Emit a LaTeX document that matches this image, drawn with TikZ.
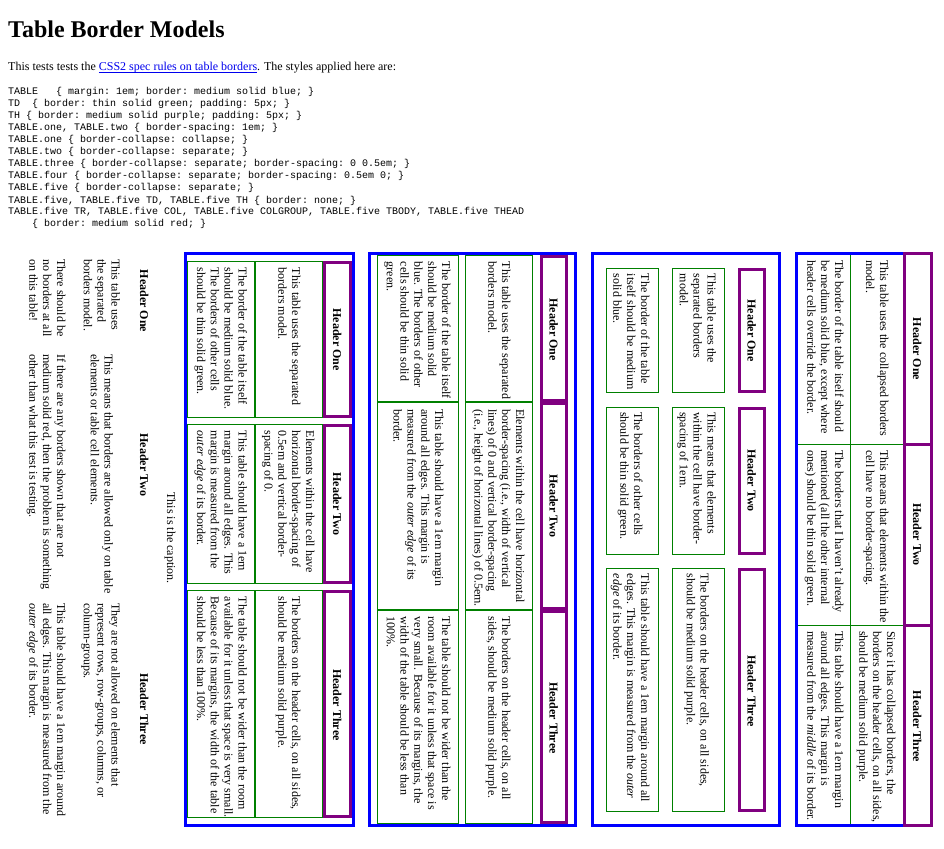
\documentclass[tikz,border=0pt]{standalone}
\usepackage{fontspec}
\setmainfont{Liberation Serif}
\setmonofont{Liberation Mono}
\definecolor{tblue}{HTML}{0000FF}
\definecolor{tpurple}{HTML}{800080}
\definecolor{tgreen}{HTML}{008000}
\definecolor{linkblue}{HTML}{0000EE}
\newcommand\ls[1]{\begin{tabular}[t]{@{}l@{}}#1\end{tabular}}
\newcommand\ulink[1]{{\color{linkblue}\setbox0\hbox{#1}\rlap{\rule[-1.5pt]{\wd0}{0.9pt}}\box0}}
\tikzset{
  tblborder/.style={draw=tblue, line width=3pt},
  thbox/.style={draw=tpurple, line width=3pt},
  tdbox/.style={draw=tgreen, line width=1pt},
  txt/.style={rotate=-90, anchor=base west, inner sep=0pt, font=\fontsize{12}{13.8}\selectfont},
  hdr/.style={rotate=-90, anchor=base, inner sep=0pt, font=\fontsize{12}{13.8}\selectfont\bfseries},
  captxt/.style={rotate=-90, anchor=base, inner sep=0pt, font=\fontsize{12}{13.8}\selectfont},
  codetxt/.style={anchor=base west, inner sep=0pt, font=\fontsize{10}{12}\selectfont\ttfamily},
}
\begin{document}
\begin{tikzpicture}[x=1pt,y=-1pt]
\fill[white] (0,0) rectangle (944,848);
\path[use as bounding box] (0,0) rectangle (944,848);

% ---------- top part ----------
\node[anchor=base west, inner sep=0pt, font=\fontsize{24}{28}\selectfont\bfseries] (title) at (8,38) {Table Border Models};
\node[anchor=base west, inner sep=0pt, font=\fontsize{12}{13.8}\selectfont] (intro) at (8,71)
  {This tests tests the \ulink{CSS2 spec rules on table borders}. The styles applied here are:};
\node[codetxt] (code) at (8,95) {\ls{%
TABLE\ \ \ \{ margin: 1em; border: medium solid blue; \}\\
TD\ \ \{ border: thin solid green; padding: 5px; \}\\
TH \{ border: medium solid purple; padding: 5px; \}\\
TABLE.one, TABLE.two \{ border-spacing: 1em; \}\\
TABLE.one \{ border-collapse: collapse; \}\\
TABLE.two \{ border-collapse: separate; \}\\
TABLE.three \{ border-collapse: separate; border-spacing: 0 0.5em; \}\\
TABLE.four \{ border-collapse: separate; border-spacing: 0.5em 0; \}\\
TABLE.five \{ border-collapse: separate; \}\\
TABLE.five, TABLE.five TD, TABLE.five TH \{ border: none; \}\\
TABLE.five TR, TABLE.five COL, TABLE.five COLGROUP, TABLE.five TBODY, TABLE.five THEAD\\
\ \ \ \ \{ border: medium solid red; \}}};

% ---------- table one (collapsed) ----------
\draw[tgreen, line width=1pt] (850.5,255) -- (850.5,824);
\draw[tgreen, line width=1pt] (798,444.5) -- (903,444.5);
\draw[tgreen, line width=1pt] (798,625.5) -- (903,625.5);
\draw[tblborder] (904.5,253.5) -- (796.5,253.5) -- (796.5,825.5) -- (904.5,825.5);
\draw[thbox] (904.5,253.5) rectangle (931.5,825.5);
\draw[thbox] (904.5,444.5) -- (931.5,444.5);
\draw[thbox] (904.5,625.5) -- (931.5,625.5);
\node[hdr] (h1a) at (913,349) {Header One};
\node[hdr] (h1b) at (913,534.5) {Header Two};
\node[hdr] (h1c) at (913,726.5) {Header Three};
\node[txt] (a12) at (880,260) {\ls{This table uses the collapsed borders\\model.}};
\node[txt] (a22) at (880,450) {\ls{This means that elements within the\\cell have no border-spacing.}};
\node[txt] (a32) at (887,631) {\ls{Since it has collapsed borders, the\\borders on the header cells, on all sides,\\should be medium solid purple.}};
\node[txt] (a13) at (835,260) {\ls{The border of the table itself should\\be medium solid blue, except where\\header cells override the border.}};
\node[txt] (a23) at (835,450) {\ls{The borders that I haven't already\\mentioned (all the other internal\\ones) should be thin solid green.}};
\node[txt] (a33) at (835,631) {\ls{This table should have a 1em margin\\around all edges. This margin is\\measured from the \textit{middle} of its border.}};

% ---------- table two ----------
\draw[tblborder] (592.5,253.5) rectangle (779.5,825.5);
\draw[thbox] (739.5,269.5) rectangle (764.5,391.5);
\draw[thbox] (739.5,408.5) rectangle (764.5,553.5);
\draw[thbox] (739.5,569.5) rectangle (764.5,810.5);
\draw[tdbox] (672,268.5) rectangle (724.5,392.5);
\draw[tdbox] (672,407.5) rectangle (724.5,554.5);
\draw[tdbox] (672,568.5) rectangle (724.5,811.5);
\draw[tdbox] (606,268.5) rectangle (658.5,392.5);
\draw[tdbox] (606,407.5) rectangle (658.5,554.5);
\draw[tdbox] (606,568.5) rectangle (658.5,811.5);
\node[hdr] (h2a) at (747.5,330.5) {Header One};
\node[hdr] (h2b) at (747.5,480.5) {Header Two};
\node[hdr] (h2c) at (747.5,691) {Header Three};
\node[txt] (b12) at (707.5,273.5) {\ls{This table uses the\\separated borders\\model.}};
\node[txt] (b22) at (707.5,412) {\ls{This means that elements\\within the cell have border-\\spacing of 1em.}};
\node[txt] (b32) at (700.6,573.5) {\ls{The borders on the header cells, on all sides,\\should be medium solid purple.}};
\node[txt] (b13) at (641,273.5) {\ls{The border of the table\\itself should be medium\\solid blue.}};
\node[txt] (b23) at (634.1,412) {\ls{The borders of other cells\\should be thin solid green.}};
\node[txt] (b33) at (641,573.5) {\ls{This table should have a 1em margin around all\\edges. This margin is measured from the \textit{outer}\\\textit{edge} of its border.}};

% ---------- table three ----------
\draw[tblborder] (369.5,253.5) rectangle (575.5,825.5);
\draw[thbox] (541,256.5) rectangle (566.5,400.5);
\draw[thbox] (541,403.5) rectangle (566.5,608.5);
\draw[thbox] (541,611.5) rectangle (566.5,822.5);
\draw[tdbox] (465.5,255.5) rectangle (532,401.5);
\draw[tdbox] (465.5,402.5) rectangle (532,609.5);
\draw[tdbox] (465.5,610.5) rectangle (532,823.5);
\draw[tdbox] (377.5,255.5) rectangle (458,401.5);
\draw[tdbox] (377.5,402.5) rectangle (458,609.5);
\draw[tdbox] (377.5,610.5) rectangle (458,823.5);
\node[hdr] (h3a) at (549.5,329.5) {Header One};
\node[hdr] (h3b) at (549.5,506) {Header Two};
\node[hdr] (h3c) at (549.5,718) {Header Three};
\node[txt] (c12) at (502.2,261.5) {\ls{This table uses the separated\\borders model.}};
\node[txt] (c22) at (516,409) {\ls{Elements within the cell have horizontal\\border-spacing (i.e., width of vertical\\lines) of 0 and vertical border-spacing\\(i.e., height of horizontal lines) of 0.5em.}};
\node[txt] (c32) at (502.2,616.5) {\ls{The borders on the header cells, on all\\sides, should be medium solid purple.}};
\node[txt] (c13) at (442,261.5) {\ls{The border of the table itself\\should be medium solid\\blue. The borders of other\\cells should be thin solid\\green.}};
\node[txt] (c23) at (435.1,409) {\ls{This table should have a 1em margin\\around all edges. This margin is\\measured from the \textit{outer edge} of its\\border.}};
\node[txt] (c33) at (442,616.5) {\ls{The table should not be wider than the\\room available for it unless that space is\\very small. Because of its margins, the\\width of the table should be less than\\100\%.}};

% ---------- table four ----------
\draw[tblborder] (185.5,253.5) rectangle (353.5,825.5);
\draw[thbox] (324.5,262.5) rectangle (350.5,416.5);
\draw[thbox] (324.5,425.5) rectangle (350.5,582);
\draw[thbox] (324.5,591.5) rectangle (350.5,816.5);
\draw[tdbox] (255.5,261.5) rectangle (322.5,417.5);
\draw[tdbox] (255.5,424.5) rectangle (322.5,583);
\draw[tdbox] (255.5,590.5) rectangle (322.5,817.5);
\draw[tdbox] (187.5,261.5) rectangle (254.5,417.5);
\draw[tdbox] (187.5,424.5) rectangle (254.5,583);
\draw[tdbox] (187.5,590.5) rectangle (254.5,817.5);
\node[hdr] (h4a) at (333,339.5) {Header One};
\node[hdr] (h4b) at (333,504) {Header Two};
\node[hdr] (h4c) at (333,705) {Header Three};
\node[txt] (d12) at (292.2,267.5) {\ls{This table uses the separated\\borders model.}};
\node[txt] (d22) at (306,430.5) {\ls{Elements within the cell have\\horizontal border-spacing of\\0.5em and vertical border-\\spacing of 0.}};
\node[txt] (d32) at (292.2,596.5) {\ls{The borders on the header cells, on all sides,\\should be medium solid purple.}};
\node[txt] (d13) at (238.5,267.5) {\ls{The border of the table itself\\should be medium solid blue.\\The borders of other cells\\should be thin solid green.}};
\node[txt] (d23) at (238.5,430.5) {\ls{This table should have a 1em\\margin around all edges. This\\margin is measured from the\\\textit{outer edge} of its border.}};
\node[txt] (d33) at (238.5,596.5) {\ls{The table should not be wider than the room\\available for it unless that space is very small.\\Because of its margins, the width of the table\\should be less than 100\%.}};

% ---------- table five (no borders) ----------
\node[captxt] (cap5) at (167,538) {This is the caption.};
\node[hdr] (h5a) at (140,301) {Header One};
\node[hdr] (h5b) at (140,465) {Header Two};
\node[hdr] (h5c) at (140,709) {Header Three};
\node[txt] (e12) at (111.5,259) {\ls{This table uses\\the separated\\borders model.}};
\node[txt] (e22) at (104.6,354) {\ls{This means that borders are allowed only on table\\elements or table cell elements.}};
\node[txt] (e32) at (111.5,603) {\ls{They are not allowed on elements that\\represent rows, row-groups, columns, or\\column-groups.}};
\node[txt] (e13) at (57,259) {\ls{There should be\\no borders at all\\on this table!}};
\node[txt] (e23) at (57,354) {\ls{If there are any borders shown that are not\\medium solid red, then the problem is something\\other than what this test is testing.}};
\node[txt] (e33) at (57,603) {\ls{This table should have a 1em margin around\\all edges. This margin is measured from the\\\textit{outer edge} of its border.}};
\end{tikzpicture}
\end{document}
